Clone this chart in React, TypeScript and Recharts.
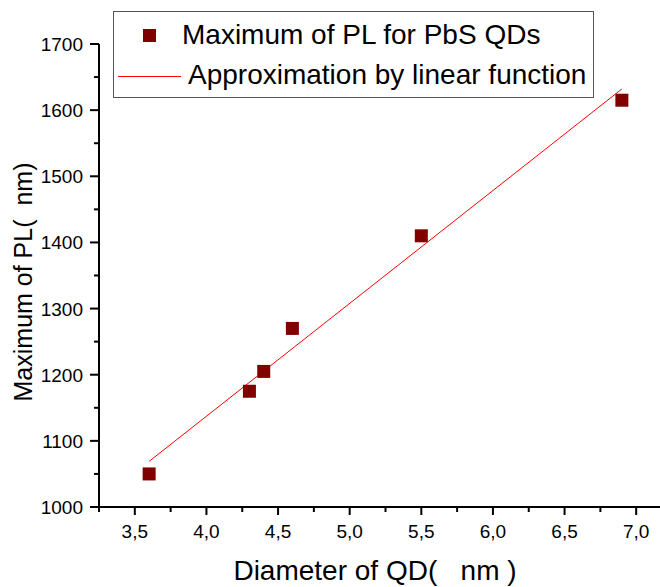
import { ScatterChart, Scatter, XAxis, YAxis, Label } from 'recharts';

// PL peak position vs. quantum-dot diameter
const diameterNm = [3.6, 4.3, 4.4, 4.6, 5.5, 6.9];
const plMaximumNm = [1050, 1175, 1205, 1270, 1410, 1615];

// endpoints of the linear approximation
const fitDiameter = [3.6, 6.9];
const fitPl = [1069, 1632];

const xTicks = [3.25, 3.5, 3.75, 4, 4.25, 4.5, 4.75, 5, 5.25, 5.5, 5.75, 6, 6.25, 6.5, 6.75, 7, 7.25];
const xLabeled = [3.5, 4, 4.5, 5, 5.5, 6, 6.5, 7];
const yTicks = [1000, 1050, 1100, 1150, 1200, 1250, 1300, 1350, 1400, 1450, 1500, 1550, 1600, 1650, 1700];
const yLabeled = [1000, 1100, 1200, 1300, 1400, 1500, 1600, 1700];

const points = diameterNm.map((x, i) => ({ x, y: plMaximumNm[i] }));
const fit = fitDiameter.map((x, i) => ({ x, y: fitPl[i] }));

const FONT = '"Liberation Sans", Arial, sans-serif';
const MARKER = '#800000';
const LINE = '#ff0000';

const Square = (props: any) => (
  <rect x={props.cx - 6.5} y={props.cy - 6.5} width={13} height={13} fill={MARKER} />
);

const XTick = ({ x, y, payload }: any) => {
  const major = xLabeled.includes(payload.value);
  return (
    <g>
      <line x1={x} x2={x} y1={y} y2={y + (major ? 8 : 5)} stroke="#000" strokeWidth={2} />
      {major && (
        <text x={x} y={y + 31} textAnchor="middle" fontSize={19} fontFamily={FONT} fill="#000">
          {payload.value.toFixed(1).replace('.', ',')}
        </text>
      )}
    </g>
  );
};

const YTick = ({ x, y, payload }: any) => {
  const major = yLabeled.includes(payload.value);
  return (
    <g>
      <line x1={x} x2={x - (major ? 9 : 5)} y1={y} y2={y} stroke="#000" strokeWidth={2} />
      {major && (
        <text x={x - 16} y={y + 7} textAnchor="end" fontSize={19} fontFamily={FONT} fill="#000">
          {payload.value}
        </text>
      )}
    </g>
  );
};

const rowText: React.CSSProperties = {
  position: 'absolute',
  fontSize: 28,
  lineHeight: '30px',
  whiteSpace: 'pre',
  color: '#000',
};

export default function App() {
  return (
    <div
      style={{
        position: 'absolute',
        left: 0,
        top: 0,
        width: 660,
        height: 587,
        overflow: 'hidden',
        background: '#fff',
        fontFamily: FONT,
      }}
    >
      <ScatterChart width={680} height={587} margin={{ top: 44, right: 8, bottom: 0, left: 0 }}>
        <XAxis
          type="number"
          dataKey="x"
          domain={[3.25, 7.25]}
          ticks={xTicks}
          interval={0}
          allowDataOverflow
          height={80}
          tickSize={0}
          tickMargin={0}
          tick={<XTick />}
          axisLine={{ stroke: '#000', strokeWidth: 2 }}
        >
          <Label
            content={() => (
              <text
                x={375}
                y={580}
                textAnchor="middle"
                fontSize={28}
                fontFamily={FONT}
                fill="#000"
                xmlSpace="preserve"
                style={{ whiteSpace: 'pre' }}
              >
                {'Diameter of QD(   nm )'}
              </text>
            )}
          />
        </XAxis>
        <YAxis
          type="number"
          dataKey="y"
          domain={[1000, 1700]}
          ticks={yTicks}
          interval={0}
          allowDataOverflow
          width={99}
          tickSize={0}
          tickMargin={0}
          tick={<YTick />}
          axisLine={{ stroke: '#000', strokeWidth: 2 }}
        >
          <Label
            content={() => (
              <text
                x={32}
                y={282}
                textAnchor="middle"
                fontSize={25}
                fontFamily={FONT}
                fill="#000"
                transform="rotate(-90 32 282)"
                xmlSpace="preserve"
                style={{ whiteSpace: 'pre' }}
              >
                {'Maximum of PL(  nm)'}
              </text>
            )}
          />
        </YAxis>
        <Scatter
          data={fit}
          line={{ stroke: LINE, strokeWidth: 1 }}
          shape={() => <g />}
          legendType="none"
          isAnimationActive={false}
        />
        <Scatter data={points} shape={<Square />} isAnimationActive={false} />
      </ScatterChart>

      <div
        style={{
          position: 'absolute',
          left: 113,
          top: 11,
          width: 481,
          height: 87,
          border: '1.5px solid #555',
          boxSizing: 'border-box',
          background: '#fff',
        }}
      >
        <div style={{ position: 'absolute', left: 29, top: 17, width: 13, height: 13, background: MARKER }} />
        <span style={{ ...rowText, left: 68, top: 8 }}>Maximum of PL for PbS QDs</span>
        <div style={{ position: 'absolute', left: 4, top: 64, width: 63, height: 1, background: LINE }} />
        <span style={{ ...rowText, left: 74, top: 48 }}>Approximation by linear function</span>
      </div>
    </div>
  );
}
